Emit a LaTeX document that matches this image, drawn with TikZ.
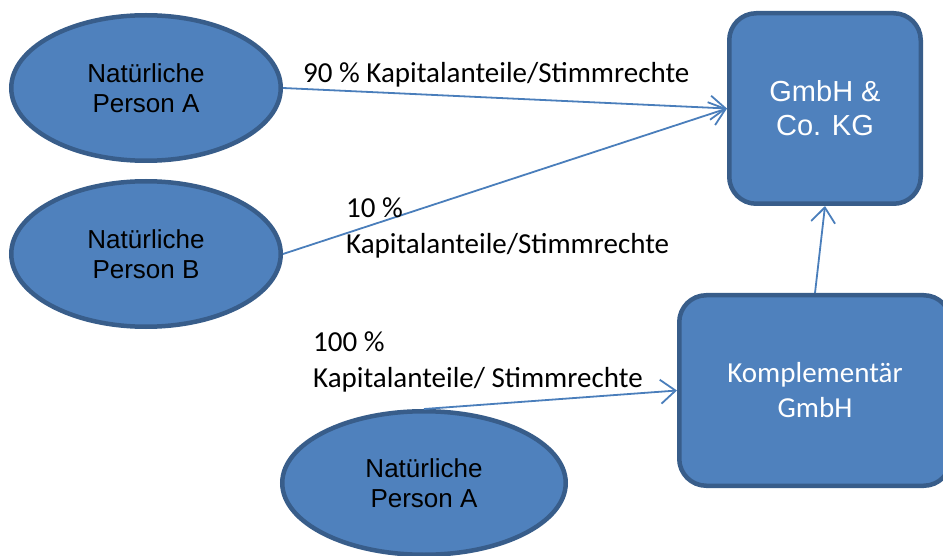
\documentclass[tikz,border=0pt]{standalone}
\usepackage{fontspec}
\setmainfont{Liberation Sans}
\newfontfamily\calibfont{Carlito}
\usetikzlibrary{shapes.geometric,arrows.meta}
\definecolor{boxfill}{HTML}{4F81BD}
\definecolor{boxline}{HTML}{385D8A}
\definecolor{arrowcol}{HTML}{4A7EBB}
\tikzset{
  person/.style={ellipse, draw=boxline, fill=boxfill, line width=4.5pt, inner sep=0pt,
    align=center, font=\fontsize{26}{30}\selectfont, text=black},
  company/.style={rectangle, rounded corners=27pt, draw=boxline, fill=boxfill, line width=4.5pt,
    inner sep=0pt, align=center, text=white},
  conn/.style={draw=arrowcol, line width=1.8pt, -{Straight Barb[length=15pt,width=24pt]}},
  lbl/.style={anchor=base west, inner sep=0pt, align=left, text=black,
    font=\calibfont\fontsize{29}{36}\selectfont}
}
\begin{document}
\begin{tikzpicture}[x=1pt,y=-1pt]
\path[use as bounding box] (0,0) rectangle (943,556);
\clip (0,0) rectangle (943,556);
\node[person, minimum width=269.5pt, minimum height=145.5pt] (pa) at (146,88) {Natürliche\\Person A};
\node[person, minimum width=269.5pt, minimum height=145.5pt] (pb) at (146,254) {Natürliche\\Person B};
\node[person, minimum width=283.5pt, minimum height=143.5pt] (pc) at (424,483) {Natürliche\\Person A};
\node[company, minimum width=191.5pt, minimum height=190.5pt, font=\fontsize{29}{34}\selectfont] (kg) at (825,108.5) {GmbH \&\\Co. KG};
\node[company, minimum width=271.5pt, minimum height=190.5pt, font=\calibfont\fontsize{29}{35}\selectfont] (komp) at (815,390.5) {Komplementär\\GmbH};
\draw[conn] (pa.east) -- (kg.west);
\draw[conn] (pb.east) -- (kg.west);
\draw[conn] (pc.north) -- (komp.west);
\draw[conn] (komp.north) -- (kg.south);
\node[lbl] (l1) at (303,83) {90 \% Kapitalanteile/Stimmrechte};
\node[lbl] (l2) at (346,254) {10 \%\\Kapitalanteile/Stimmrechte};
\node[lbl] (l3) at (313,387) {100 \%\\Kapitalanteile/ Stimmrechte};
\end{tikzpicture}
\end{document}
